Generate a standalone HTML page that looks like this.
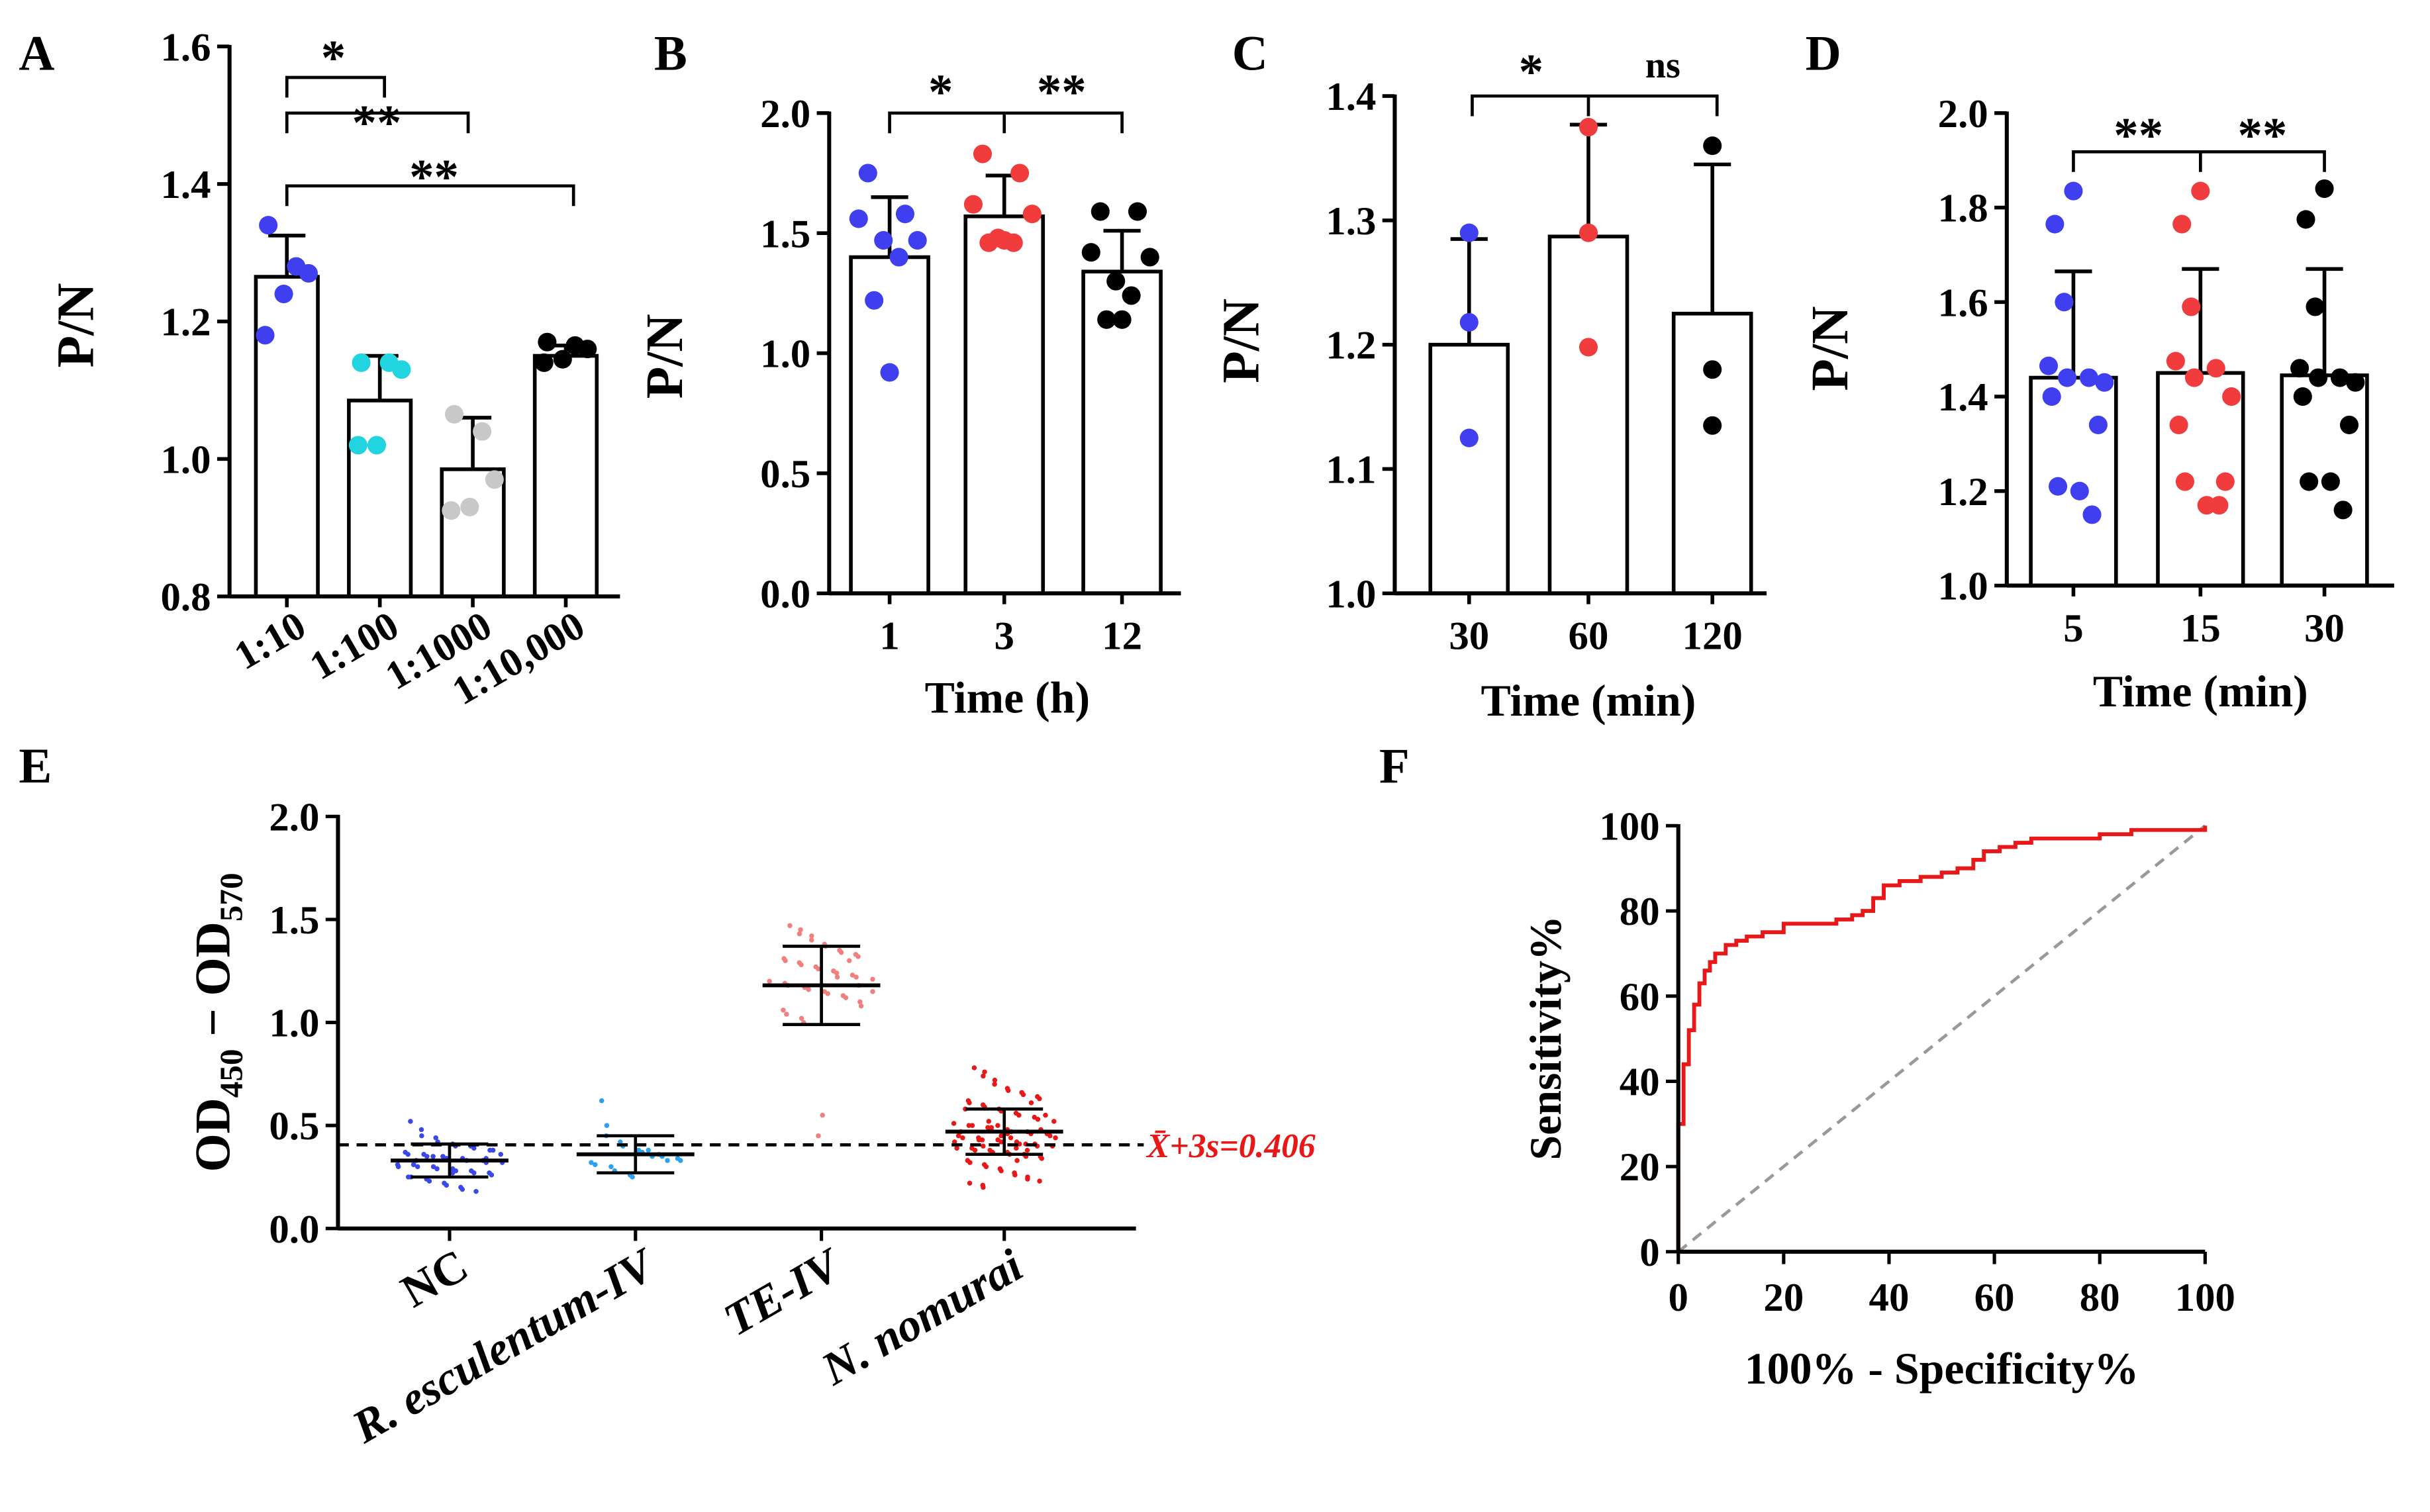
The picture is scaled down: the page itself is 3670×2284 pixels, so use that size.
<!DOCTYPE html>
<html><head><meta charset="utf-8"><style>
html,body{margin:0;padding:0;background:#fff}
svg{display:block}
text{font-family:"Liberation Serif",serif;font-weight:bold;fill:#000}
</style></head><body>
<svg id="fig" width="3670" height="2284" viewBox="0 0 1568 976" xmlns="http://www.w3.org/2000/svg"></svg>
<script>
// ---------- DATA ----------
const aCats=["1:10","1:100","1:1000","1:10,000"];
const aMeans=[1.265,1.085,0.985,1.15];
const aErr=[1.325,1.15,1.06,1.165];
const aPts=[[1.34,1.28,1.27,1.24,1.18],[1.14,1.14,1.13,1.02,1.02],[1.065,1.04,0.97,0.93,0.925],[1.17,1.165,1.16,1.145,1.14]];
const aTicks=[0.8,1.0,1.2,1.4,1.6];

const bCats=["1","3","12"];
const bMeans=[1.40,1.57,1.34];
const bErr=[1.65,1.74,1.51];
const bPts=[[1.75,1.58,1.56,1.47,1.47,1.40,1.22,0.92],[1.83,1.75,1.62,1.58,1.48,1.46,1.46,1.47],[1.59,1.59,1.42,1.40,1.30,1.24,1.14,1.14]];
const bTicks=[0.0,0.5,1.0,1.5,2.0];

const cCats=["30","60","120"];
const cMeans=[1.20,1.287,1.225];
const cErr=[1.285,1.377,1.345];
const cPts=[[1.29,1.218,1.125],[1.375,1.29,1.198],[1.36,1.18,1.135]];
const cTicks=[1.0,1.1,1.2,1.3,1.4];

const dCats=["5","15","30"];
const dMeans=[1.44,1.45,1.445];
const dErr=[1.665,1.67,1.67];
const dPts=[[1.835,1.765,1.60,1.465,1.44,1.44,1.43,1.40,1.34,1.21,1.20,1.15],[1.835,1.765,1.59,1.475,1.46,1.44,1.40,1.34,1.22,1.22,1.17,1.17],[1.84,1.775,1.59,1.46,1.44,1.44,1.43,1.40,1.34,1.22,1.22,1.16]];
const dTicks=[1.0,1.2,1.4,1.6,1.8,2.0];

const eCats=["NC","R. esculentum-IV","TE-IV","N. nomurai"];
const eMeans=[0.33,0.36,1.18,0.47];
const eSD=[0.08,0.09,0.19,0.11];
const eVals=[
 [0.52,0.48,0.45,0.44,0.42,0.41,0.40,0.40,0.39,0.38,0.38,0.37,0.36,0.36,0.35,0.35,0.34,0.34,0.33,0.33,0.32,0.32,0.31,0.31,0.30,0.30,0.29,0.29,0.28,0.28,0.27,0.27,0.26,0.25,0.25,0.24,0.23,0.22,0.21,0.20,0.19,0.18,0.34,0.36,0.30,0.31,0.33,0.35,0.29,0.27],
 [0.62,0.50,0.45,0.42,0.40,0.38,0.37,0.36,0.35,0.34,0.33,0.32,0.31,0.30,0.28,0.26,0.25,0.38,0.35,0.33],
 [1.47,1.45,1.43,1.42,1.40,1.38,1.37,1.35,1.34,1.33,1.32,1.31,1.30,1.29,1.28,1.27,1.26,1.25,1.24,1.23,1.22,1.21,1.20,1.19,1.18,1.17,1.16,1.15,1.14,1.13,1.12,1.10,1.08,1.06,1.04,1.02,1.00,0.55,0.45,1.25,1.22,1.30,1.18,1.15],
 [0.78,0.76,0.74,0.72,0.70,0.68,0.67,0.66,0.65,0.64,0.63,0.62,0.61,0.60,0.59,0.58,0.57,0.56,0.55,0.54,0.53,0.52,0.51,0.50,0.50,0.49,0.48,0.48,0.47,0.47,0.46,0.46,0.45,0.45,0.44,0.44,0.43,0.43,0.42,0.42,0.41,0.41,0.40,0.40,0.39,0.39,0.38,0.38,0.37,0.37,0.36,0.36,0.35,0.35,0.34,0.33,0.32,0.31,0.30,0.29,0.28,0.27,0.26,0.25,0.24,0.23,0.22,0.21,0.20,0.52,0.49,0.46,0.44,0.41,0.38,0.35,0.55,0.58,0.47,0.43,0.40,0.50,0.45,0.39,0.33,0.61,0.48,0.44,0.42]
];
const eTicks=[0.0,0.5,1.0,1.5,2.0];
const eCutoff=0.406;

const fFpr=[0,0,1,1,2,2,3,4,5,6,7,9,11,13,16,20,25,30,33,35,37,39,42,46,50,53,56,58,61,64,67,75,80,84,86,100];
const fTpr=[0,30,30,44,44,52,58,63,66,68,70,72,73,74,75,77,77,78,79,80,83,86,87,88,89,90,92,94,95,96,97,97,98,98,99,100];
const fTicks=[0,20,40,60,80,100];

// ---------- HELPERS ----------
const NS="http://www.w3.org/2000/svg";
const svg=document.getElementById('fig');
function mk(tag,attrs,parent){const e=document.createElementNS(NS,tag);for(const k in attrs)e.setAttribute(k,attrs[k]);(parent||svg).appendChild(e);return e;}
function txt(s,x,y,size,attrs,parent){const t=mk('text',Object.assign({x:x,y:y,'font-size':size},attrs||{}),parent);t.textContent=s;return t;}

function barPanel(c){
  const g=mk('g',{});
  
  
  const Y=v=>c.yBot-(v-c.min)/(c.max-c.min)*(c.yBot-c.yTop);
  c.means.forEach((m,i)=>{
    const cx=c.centers[i];
    const r=mk('rect',{x:cx-c.barW/2,y:Y(m),width:c.barW,height:c.yBot-Y(m),fill:'#fff',stroke:'#000','stroke-width':2.4},g);
    
    
    mk('line',{x1:cx,x2:cx,y1:Y(m),y2:Y(c.err[i]),stroke:'#000','stroke-width':2.4},g);
    mk('line',{x1:cx-12,x2:cx+12,y1:Y(c.err[i]),y2:Y(c.err[i]),stroke:'#000','stroke-width':2.4},g);
    const offs=c.offs;
    c.pts[i].forEach((v,j)=>{
      const p=mk('circle',{cx:cx+offs[j%offs.length],cy:Y(v),r:c.pr,fill:c.colors[i]},g);
      
      
    });
    const lab=c.rot?txt(c.cats[i],cx+14,c.yBot+24,c.tf,{'text-anchor':'end',transform:`rotate(-30 ${cx+14} ${c.yBot+24})`},g):txt(c.cats[i],cx,c.yBot+36,c.tf,{'text-anchor':'middle'},g);
    
    
    mk('line',{x1:cx,x2:cx,y1:c.yBot,y2:c.yBot+7,stroke:'#000','stroke-width':2.4},g);
  });
  mk('line',{x1:c.x0,x2:c.x0,y1:c.yTop-1,y2:c.yBot+1,stroke:'#000','stroke-width':2.6},g);
  mk('line',{x1:c.x0,x2:c.xEnd,y1:c.yBot,y2:c.yBot,stroke:'#000','stroke-width':2.6},g);
  c.ticks.forEach(t=>{
    mk('line',{x1:c.x0-8,x2:c.x0,y1:Y(t),y2:Y(t),stroke:'#000','stroke-width':2.4},g);
    const l=txt(t.toFixed(1),c.x0-12,Y(t)+9,c.tf,{'text-anchor':'end'},g);
    
    
  });
  const yt=txt('P/N',c.ytx,c.yty,34,{'text-anchor':'middle',transform:`rotate(-90 ${c.ytx} ${c.yty})`},g);
  
  
  if(c.xt){const xt=txt(c.xt,c.xtx,c.xty,29,{'text-anchor':'middle'},g);
    
    }
  const pl=txt(c.letter,c.lx,c.ly,32,{},g);
  
  
  return {g,Y};
}
function bracket(g,x1,x2,y,mid){
  mk('path',{d:`M${x1} ${y+13}V${y}H${x2}V${y+13}`,fill:'none',stroke:'#000','stroke-width':2},g);
  if(mid!==undefined) mk('line',{x1:mid,x2:mid,y1:y,y2:y+13,stroke:'#000','stroke-width':2},g);
}
const offs5=[-12,6,14,-2,-14];
const offs8=[-14,10,-20,18,-4,6,-10,0];
const offs12=[0,-12,-6,-16,10,-4,20,-14,16,-10,4,12];

let A=barPanel({name:'panel-a',letter:'A',lx:12,ly:45,x0:148,xEnd:400,yTop:30,yBot:385,min:0.8,max:1.6,ticks:aTicks,tf:26,
 cats:aCats,centers:[185,245,305,365],barW:40,means:aMeans,err:aErr,pts:aPts,colors:['#3f3ff0','#22d3e0','#c8c8c8','#000'],offs:offs5,pr:6,rot:true,ytx:60,yty:210});
bracket(A.g,185,248,50);txt('*',215,48,32,{'text-anchor':'middle'},A.g);
bracket(A.g,185,302,73);txt('**',243,90,32,{'text-anchor':'middle'},A.g);
bracket(A.g,185,370,120);txt('**',280,125,32,{'text-anchor':'middle'},A.g);

let B=barPanel({name:'panel-b',letter:'B',lx:422,ly:45,x0:535,xEnd:762,yTop:73,yBot:383,min:0,max:2,ticks:bTicks,tf:26,
 cats:bCats,centers:[574,648,724],barW:50,means:bMeans,err:bErr,pts:bPts,colors:['#3f3ff0','#f03c3c','#000'],offs:offs8,pr:6,ytx:440,yty:230,xt:'Time (h)',xtx:650,xty:460});
bracket(B.g,574,724,73,648);txt('*',607,70,32,{'text-anchor':'middle'},B.g);txt('**',685,70,32,{'text-anchor':'middle'},B.g);

let C=barPanel({name:'panel-c',letter:'C',lx:795,ly:45,x0:900,xEnd:1140,yTop:62,yBot:383,min:1.0,max:1.4,ticks:cTicks,tf:26,
 cats:cCats,centers:[948,1025,1105],barW:50,means:cMeans,err:cErr,pts:cPts,colors:['#3f3ff0','#f03c3c','#000'],offs:[0,0,0],pr:6,ytx:812,yty:220,xt:'Time (min)',xtx:1025,xty:462});
bracket(C.g,950,1108,62,1025);txt('*',988,57,32,{'text-anchor':'middle'},C.g);txt('ns',1073,50,24,{'text-anchor':'middle'},C.g);

let D=barPanel({name:'panel-d',letter:'D',lx:1165,ly:45,x0:1295,xEnd:1545,yTop:73,yBot:378,min:1.0,max:2.0,ticks:dTicks,tf:26,
 cats:dCats,centers:[1338,1420,1500],barW:55,means:dMeans,err:dErr,pts:dPts,colors:['#3f3ff0','#f03c3c','#000'],offs:offs12,pr:6,ytx:1192,yty:225,xt:'Time (min)',xtx:1420,xty:456});
bracket(D.g,1338,1500,98,1420);txt('**',1380,98,32,{'text-anchor':'middle'},D.g);txt('**',1460,98,32,{'text-anchor':'middle'},D.g);

// ---------- PANEL E ----------
(function(){
 const g=mk('g',{});
 const x0=218,xEnd=733,yTop=527,yBot=793;
 const Y=v=>yBot-v/2*(yBot-yTop);
 const cx=[290,410,530,648];
 const cols=['#3b48e8','#2aa0f0','#f08080','#e81818'];
 eVals.forEach((arr,i)=>{
   arr.forEach((v,j)=>{
     const k=j%11-5; const dx=k*6.5*Math.max(0.2,1-Math.abs(v-eMeans[i])*1.5)+((j%2)?2:-2);
     const p=mk('circle',{cx:cx[i]+dx,cy:Y(v),r:1.6,fill:cols[i]},g);
     
     
   });
   const m=eMeans[i],s=eSD[i];
   mk('line',{x1:cx[i]-38,x2:cx[i]+38,y1:Y(m),y2:Y(m),stroke:'#000','stroke-width':2.5},g);
   mk('line',{x1:cx[i],x2:cx[i],y1:Y(m+s),y2:Y(m-s),stroke:'#000','stroke-width':2},g);
   mk('line',{x1:cx[i]-25,x2:cx[i]+25,y1:Y(m+s),y2:Y(m+s),stroke:'#000','stroke-width':2},g);
   mk('line',{x1:cx[i]-25,x2:cx[i]+25,y1:Y(m-s),y2:Y(m-s),stroke:'#000','stroke-width':2},g);
   mk('line',{x1:cx[i],x2:cx[i],y1:yBot,y2:yBot+8,stroke:'#000','stroke-width':2.2},g);
   const l=txt(eCats[i],cx[i]+14,yBot+30,30,{'text-anchor':'end','font-style':i?'italic':'normal',transform:`rotate(-30 ${cx[i]+14} ${yBot+30})`},g);
   
   
 });
 mk('line',{x1:x0,x2:x0,y1:yTop-1,y2:yBot+1,stroke:'#000','stroke-width':2.6},g);
 mk('line',{x1:x0,x2:xEnd,y1:yBot,y2:yBot,stroke:'#000','stroke-width':2.6},g);
 eTicks.forEach(t=>{mk('line',{x1:x0-8,x2:x0,y1:Y(t),y2:Y(t),stroke:'#000','stroke-width':2.2},g);
   const l=txt(t.toFixed(1),x0-12,Y(t)+9,26,{'text-anchor':'end'},g);
   
   });
 const cl=mk('line',{x1:x0,x2:738,y1:Y(eCutoff),y2:Y(eCutoff),stroke:'#000','stroke-width':2,'stroke-dasharray':'7,5'},g);
 
 
 const ct=mk('text',{x:740,y:Y(eCutoff)+8,'font-size':22,'font-style':'italic'},g);
 ct.setAttribute('style','fill:#e81818');
 
 
 ct.textContent='X̄+3s='+eCutoff.toFixed(3);
 const yt=mk('text',{x:0,y:0,'font-size':32,'text-anchor':'middle',transform:'translate(148 660) rotate(-90)'},g);
 
 
 yt.innerHTML='OD<tspan font-size="21" dy="8">450</tspan><tspan dy="-8"> − OD</tspan><tspan font-size="21" dy="8">570</tspan>';
 const pl=txt('E',12,505,32,{},g);
})();

// ---------- PANEL F ----------
(function(){
 const g=mk('g',{});
 const x0=1083,x1=1423,yTop=533,yBot=808;
 const X=v=>x0+v/100*(x1-x0), Y=v=>yBot-v/100*(yBot-yTop);
 const diag=mk('line',{x1:X(0),y1:Y(0),x2:X(100),y2:Y(100),stroke:'#999','stroke-width':2,'stroke-dasharray':'7,5'},g);
 
 let d='';fFpr.forEach((f,i)=>{ if(i===0){d+='M'+X(f)+' '+Y(fTpr[i]);} else {d+='H'+X(f)+'V'+Y(fTpr[i]);} });
 const roc=mk('path',{d:d,fill:'none',stroke:'#e81818','stroke-width':2.5},g);
 
 mk('line',{x1:x0,x2:x0,y1:yTop-1,y2:yBot+1,stroke:'#000','stroke-width':2.6},g);
 mk('line',{x1:x0,x2:x1,y1:yBot,y2:yBot,stroke:'#000','stroke-width':2.6},g);
 fTicks.forEach(t=>{
   mk('line',{x1:x0-8,x2:x0,y1:Y(t),y2:Y(t),stroke:'#000','stroke-width':2.2},g);
   mk('line',{x1:X(t),x2:X(t),y1:yBot,y2:yBot+8,stroke:'#000','stroke-width':2.2},g);
   const a=txt(String(t),x0-12,Y(t)+9,26,{'text-anchor':'end'},g);
   
   const b=txt(String(t),X(t),yBot+38,26,{'text-anchor':'middle'},g);
   
 });
 const xt=txt('100% - Specificity%',1253,893,29,{'text-anchor':'middle'},g);
 
 const yt=txt('Sensitivity%',1007,670,29,{'text-anchor':'middle',transform:'rotate(-90 1007 670)'},g);
 
 const pl=txt('F',890,505,32,{},g);
})();
</script>
</body></html>
